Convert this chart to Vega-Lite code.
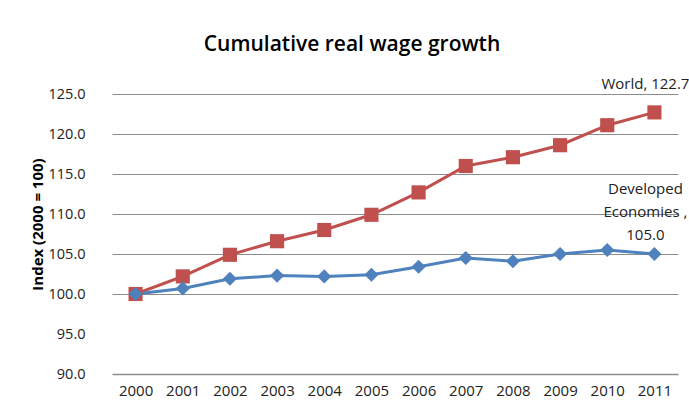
{
  "$schema": "https://vega.github.io/schema/vega-lite/v6.json",
  "width": 566,
  "height": 280,
  "autosize": {"type": "none"},
  "padding": {"left": 112, "top": 94, "right": 11, "bottom": 40},
  "background": "white",
  "config": {"view": {"stroke": null}, "font": "Open Sans"},
  "title": {
    "text": "Cumulative real wage growth",
    "font": "Open Sans",
    "fontSize": 21,
    "fontWeight": 600,
    "color": "#000000",
    "anchor": "middle",
    "frame": "group",
    "dx": -43,
    "offset": 22
  },
  "data": {
    "values": [
      {"year": "2000", "series": "World", "value": 100.0},
      {"year": "2001", "series": "World", "value": 102.2},
      {"year": "2002", "series": "World", "value": 104.9},
      {"year": "2003", "series": "World", "value": 106.6},
      {"year": "2004", "series": "World", "value": 108.0},
      {"year": "2005", "series": "World", "value": 109.9},
      {"year": "2006", "series": "World", "value": 112.7},
      {"year": "2007", "series": "World", "value": 116.0},
      {"year": "2008", "series": "World", "value": 117.1},
      {"year": "2009", "series": "World", "value": 118.6},
      {"year": "2010", "series": "World", "value": 121.1},
      {"year": "2011", "series": "World", "value": 122.7},
      {"year": "2000", "series": "Developed Economies", "value": 100.0},
      {"year": "2001", "series": "Developed Economies", "value": 100.7},
      {"year": "2002", "series": "Developed Economies", "value": 101.9},
      {"year": "2003", "series": "Developed Economies", "value": 102.3},
      {"year": "2004", "series": "Developed Economies", "value": 102.2},
      {"year": "2005", "series": "Developed Economies", "value": 102.4},
      {"year": "2006", "series": "Developed Economies", "value": 103.4},
      {"year": "2007", "series": "Developed Economies", "value": 104.5},
      {"year": "2008", "series": "Developed Economies", "value": 104.1},
      {"year": "2009", "series": "Developed Economies", "value": 105.0},
      {"year": "2010", "series": "Developed Economies", "value": 105.5},
      {"year": "2011", "series": "Developed Economies", "value": 105.0}
    ]
  },
  "encoding": {
    "x": {
      "field": "year",
      "type": "ordinal",
      "scale": {"type": "point", "padding": 0.5},
      "axis": {
        "title": null,
        "labelAngle": 0,
        "labelFont": "Open Sans",
        "labelFontSize": 15,
        "labelColor": "#222222",
        "labelPadding": 9,
        "ticks": false,
        "domainColor": "#8c8c8c",
        "domainWidth": 1.5,
        "grid": false
      }
    },
    "y": {
      "field": "value",
      "type": "quantitative",
      "scale": {"domain": [90, 125], "nice": false, "zero": false},
      "axis": {
        "title": "Index (2000 = 100)",
        "titleFont": "Open Sans",
        "titleFontSize": 15,
        "titleFontWeight": "bold",
        "titleColor": "#000000",
        "titleX": -75,
        "titleY": 130,
        "titleAlign": "center",
        "titleBaseline": "middle",
        "titleAngle": -90,
        "values": [90, 95, 100, 105, 110, 115, 120, 125],
        "format": ".1f",
        "labelFont": "Open Sans",
        "labelFontSize": 14.5,
        "labelColor": "#222222",
        "labelPadding": 27,
        "ticks": false,
        "domain": false,
        "grid": true,
        "gridColor": "#8c8c8c",
        "gridWidth": 1.2,
        "gridOpacity": {"condition": {"test": "datum.value == 95 || datum.value == 90", "value": 0}, "value": 1}
      }
    },
    "color": {
      "field": "series",
      "type": "nominal",
      "scale": {"domain": ["World", "Developed Economies"], "range": ["#C0504D", "#4F81BD"]},
      "legend": null
    }
  },
  "layer": [
    {"mark": {"type": "line", "strokeWidth": 3}},
    {
      "mark": {"type": "point", "filled": true, "opacity": 1, "size": 200},
      "encoding": {
        "shape": {
          "field": "series",
          "type": "nominal",
          "scale": {"domain": ["World", "Developed Economies"], "range": ["square", "diamond"]},
          "legend": null
        }
      }
    },
    {
      "transform": [{"filter": "datum.year == '2011' && datum.series == 'World'"}],
      "mark": {"type": "text", "dy": -28, "dx": -9, "fontSize": 15, "font": "Open Sans", "color": "#222222", "clip": false},
      "encoding": {
        "text": {"value": "World, 122.7"},
        "color": {"value": "#222222"}
      }
    },
    {
      "transform": [{"filter": "datum.year == '2011' && datum.series == 'Developed Economies'"}],
      "mark": {"type": "text", "dy": -72, "dx": -9, "fontSize": 15, "font": "Open Sans", "baseline": "top", "lineHeight": 23, "color": "#222222"},
      "encoding": {
        "text": {"value": ["Developed", "Economies ,", "105.0"]},
        "color": {"value": "#222222"}
      }
    }
  ]
}
